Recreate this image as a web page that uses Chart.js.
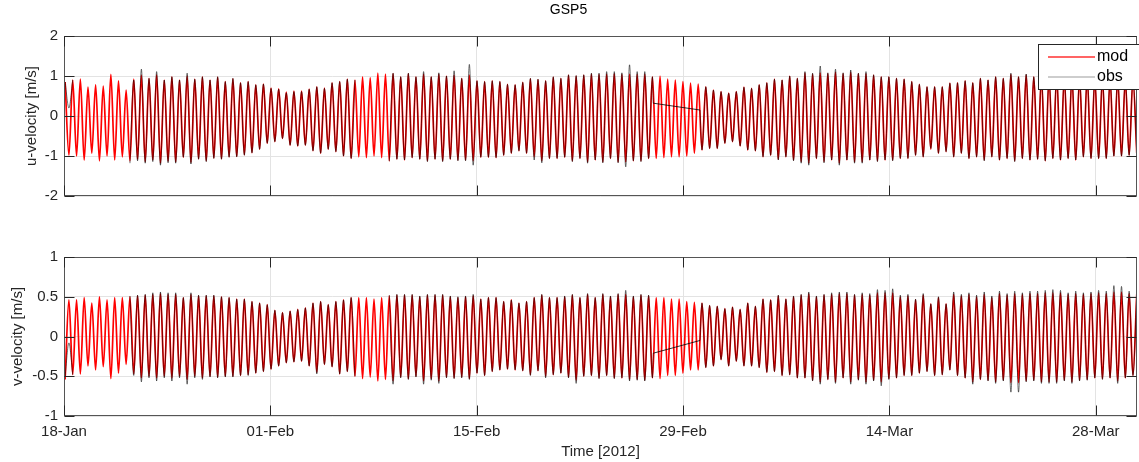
<!DOCTYPE html>
<html>
<head>
<meta charset="utf-8">
<script src="https://cdn.jsdelivr.net/npm/chart.js@4"></script>
<style>
  html, body { margin: 0; padding: 0; background: #fff; }
  #wrap { position: relative; width: 1139px; height: 462px; overflow: hidden; }
  .panel { position: absolute; left: 0; width: 1139px; }
</style>
</head>
<body>
<div id="wrap">
  <div class="panel" style="top:0;height:230px"><canvas id="uChart"></canvas></div>
  <div class="panel" style="top:230px;height:232px"><canvas id="vChart"></canvas></div>
</div>
<script>
// x axis: days after 18-Jan 2012
const tickDays = [0, 14, 28, 42, 56, 70];
const tickLabels = ['18-Jan', '01-Feb', '15-Feb', '29-Feb', '14-Mar', '28-Mar'];
const dayMax = 72.8;

// tidal extremes: first at T0, then every half cycle (M2, 12.42 h)
const T0 = 0.075;
const CYCLE = 0.5175;

// u-velocity, model: flood peaks and ebb troughs
const uModHi = [0.85, 0.90, 0.92, 0.72, 0.78, 0.75, 1.04, 0.88, 0.65,
  0.92, 1.02, 0.94, 1.03, 0.90, 0.98, 0.90, 1.00, 0.92, 0.98, 0.90, 0.97, 0.86, 0.93, 0.83, 0.86, 0.78, 0.80, 0.70, 0.68, 0.60, 0.62, 0.62, 0.67, 0.73, 0.70,
  0.83, 0.86, 0.92, 0.90, 0.98, 0.96, 1.07, 1.05, 1.06, 0.98, 1.06, 0.98, 1.05, 0.98, 1.05, 1.00, 1.02, 0.94, 1.02, 0.88, 0.86, 0.88, 0.86, 0.79, 0.78, 0.84, 0.93, 0.91, 0.88, 0.97, 0.94, 1.02, 1.00, 1.02, 1.05,
  1.04, 1.05, 1.06, 1.04, 1.05, 1.04, 1.05, 0.98, 1.00, 0.92, 0.90, 0.86, 0.82, 0.80, 0.73, 0.65, 0.61, 0.57, 0.61, 0.72, 0.69, 0.78, 0.83, 0.92, 0.90, 1.00, 0.94, 1.08, 1.05, 1.08, 1.06, 1.10, 1.06, 1.10, 1.06,
  1.06, 1.02, 0.98, 0.98, 0.94, 0.92, 0.86, 0.79, 0.73, 0.73, 0.73, 0.82, 0.83, 0.88, 0.83, 0.94, 0.90, 0.98, 0.94, 1.04, 0.98, 1.03, 0.98, 0.98, 0.95, 1.00, 0.96, 0.98, 0.95, 0.97, 0.93, 0.95, 0.92, 0.94, 0.90, 0.92];
const uModLo = [-0.98,
  -1.00, -1.10, -0.93, -1.12, -1.00, -1.10, -1.02, -1.12, -1.08, -1.14, -1.10, -1.18, -1.13, -1.15, -1.03, -1.16, -1.07, -1.12, -1.05, -1.07, -1.02, -1.01, -0.97, -0.92, -0.83, -0.68, -0.64, -0.56, -0.73, -0.75, -0.73, -0.87, -0.93,
  -0.83, -0.89, -1.00, -1.06, -1.02, -1.04, -1.00, -1.04, -1.12, -1.08, -1.10, -1.04, -1.08, -1.12, -1.08, -1.12, -1.08, -1.10, -1.10, -1.12, -1.03, -1.03, -1.04, -0.98, -0.93, -0.87, -0.93, -1.02, -1.12, -1.06, -1.06, -1.03, -1.12, -1.06, -1.15,
  -1.10, -1.15, -1.06, -1.15, -1.15, -1.12, -1.12, -1.06, -1.06, -1.04, -1.02, -1.02, -1.00, -0.93, -0.85, -0.81, -0.81, -0.68, -0.64, -0.75, -0.85, -0.87, -1.02, -0.98, -1.08, -1.02, -1.10, -1.14, -1.18, -1.06, -1.14, -1.10, -1.18, -1.10, -1.15,
  -1.15, -1.10, -1.12, -1.10, -1.10, -1.06, -1.06, -0.98, -1.02, -0.83, -0.93, -0.89, -1.02, -0.93, -1.06, -1.02, -1.10, -1.02, -1.10, -1.06, -1.12, -1.06, -1.10, -1.08, -1.12, -1.06, -1.10, -1.06, -1.10, -1.02, -1.06, -1.06, -1.06, -1.00, -1.00, -0.98, -0.93];

// u-velocity, observed (null = no data)
const uObsHi = [0.85, 0.90, null, null, null, null, null, null, null,
  0.90, 1.17, 0.94, 1.11, 0.90, 0.98, 0.90, 1.07, 0.92, 0.98, 0.90, 0.98, 0.86, 0.94, 0.83, 0.86, 0.78, 0.80, 0.69, 0.67, 0.58, 0.61, 0.61, 0.67, 0.73, 0.69,
  0.83, 0.86, 0.92, 0.90, null, null, null, null, 1.07, 0.98, 1.07, 0.98, 1.11, 0.98, 1.08, 1.00, 1.13, 0.94, 1.29, 0.88, 0.86, 0.88, 0.86, 0.79, 0.78, 0.84, 0.94, 0.92, 0.88, 0.98, 0.94, 1.03, 1.01, 1.03, 1.07,
  1.07, 1.11, 1.11, 1.08, 1.28, 1.11, 1.11, 0.98, null, null, null, null, null, null, 0.73, 0.65, 0.61, 0.57, 0.61, 0.72, 0.69, 0.78, 0.83, 0.92, 0.90, 1.00, 0.94, 1.11, 1.07, 1.25, 1.08, 1.17, 1.08, 1.15, 1.07,
  1.11, 1.03, 0.98, 0.98, 0.94, 0.92, 0.86, 0.79, 0.73, 0.73, 0.73, 0.82, 0.83, 0.88, 0.83, 0.94, 0.90, 0.98, 0.94, 1.07, 0.98, 1.05, 0.98, 1.00, 0.96, 1.02, 0.97, 0.99, 0.96, 0.98, 0.94, 0.97, 0.93, 0.96, 0.92, 0.93];
const uObsLo = [0.20, null, null, null, null, null, null, null,
  -1.18, -1.12, -1.18, -1.14, -1.23, -1.17, -1.18, -1.03, -1.20, -1.08, -1.14, -1.06, -1.08, -1.03, -1.02, -0.98, -0.92, -0.83, -0.68, -0.64, -0.56, -0.73, -0.75, -0.73, -0.87, -0.93,
  -0.83, -0.89, -1.00, -1.06, null, null, null, null, -1.13, -1.08, -1.10, -1.04, -1.08, -1.14, -1.08, -1.14, -1.08, -1.12, -1.12, -1.23, -1.03, -1.03, -1.04, -0.98, -0.93, -0.87, -0.93, -1.10, -1.17, -1.06, -1.06, -1.03, -1.14, -1.06, -1.18,
  -1.10, -1.17, -1.06, -1.17, -1.27, -1.12, -1.14, -1.06, null, null, null, null, null, null, -0.85, -0.81, -0.81, -0.68, -0.64, -0.75, -0.85, -0.87, -1.02, -0.98, -1.10, -1.02, -1.12, -1.18, -1.23, -1.06, -1.17, -1.10, -1.23, -1.10, -1.18,
  -1.18, -1.10, -1.14, -1.10, -1.12, -1.06, -1.06, -0.98, -1.02, -0.81, -0.93, -0.89, -1.02, -0.93, -1.06, -1.02, -1.12, -1.02, -1.10, -1.06, -1.14, -1.06, -1.10, -1.08, -1.12, -1.06, -1.10, -1.06, -1.10, -1.02, -1.06, -1.06, -1.06, -1.00, -1.00, -0.98, -0.93];
// straight segment across the obs gap [day, value]
const uObsGap = [[39.98, 0.32], [43.15, 0.15]];

// v-velocity, model: troughs come first, peaks half a cycle later
const vModLo = [-0.54, -0.48, -0.47, -0.37, -0.42, -0.38, -0.53, -0.46, -0.35, -0.47, -0.52, -0.50, -0.52, -0.50, -0.52, -0.50, -0.54, -0.50, -0.52, -0.50, -0.51, -0.50, -0.50, -0.49, -0.48, -0.46, -0.44, -0.41, -0.37, -0.33, -0.32, -0.31, -0.37, -0.45, -0.35,
  -0.38, -0.47, -0.44, -0.50, -0.53, -0.51, -0.56, -0.54, -0.56, -0.51, -0.53, -0.50, -0.56, -0.53, -0.56, -0.51, -0.52, -0.51, -0.53, -0.46, -0.49, -0.44, -0.42, -0.41, -0.42, -0.43, -0.48, -0.43, -0.50, -0.48, -0.46, -0.51, -0.55, -0.50,
  -0.49, -0.52, -0.49, -0.52, -0.52, -0.54, -0.54, -0.55, -0.52, -0.53, -0.49, -0.49, -0.46, -0.42, -0.42, -0.39, -0.37, -0.29, -0.37, -0.31, -0.37, -0.37, -0.39, -0.45, -0.44, -0.49, -0.48, -0.52, -0.52, -0.55, -0.57, -0.54, -0.57, -0.52, -0.57,
  -0.54, -0.57, -0.55, -0.57, -0.53, -0.52, -0.49, -0.49, -0.46, -0.44, -0.49, -0.48, -0.42, -0.49, -0.52, -0.57, -0.54, -0.55, -0.57, -0.55, -0.58, -0.58, -0.56, -0.55, -0.57, -0.57, -0.57, -0.55, -0.57, -0.55, -0.54, -0.52, -0.53, -0.52, -0.56, -0.52, -0.49];
const vModHi = [0.46, 0.46, 0.49, 0.42, 0.50, 0.46, 0.49, 0.49, 0.50, 0.51, 0.52, 0.53, 0.54, 0.53, 0.53, 0.49, 0.53, 0.51, 0.51, 0.51, 0.50, 0.49, 0.47, 0.47, 0.44, 0.42, 0.40, 0.33, 0.30, 0.32, 0.34, 0.36, 0.42, 0.44, 0.40,
  0.44, 0.46, 0.49, 0.49, 0.49, 0.47, 0.49, 0.51, 0.52, 0.52, 0.52, 0.50, 0.52, 0.52, 0.52, 0.50, 0.49, 0.50, 0.51, 0.47, 0.49, 0.49, 0.44, 0.46, 0.42, 0.44, 0.49, 0.52, 0.49, 0.49, 0.50, 0.52, 0.49, 0.53,
  0.49, 0.53, 0.50, 0.53, 0.53, 0.50, 0.52, 0.51, 0.49, 0.49, 0.47, 0.47, 0.44, 0.43, 0.42, 0.39, 0.38, 0.35, 0.37, 0.34, 0.42, 0.38, 0.47, 0.46, 0.51, 0.47, 0.50, 0.52, 0.54, 0.50, 0.52, 0.53, 0.54, 0.54, 0.52,
  0.53, 0.52, 0.55, 0.55, 0.55, 0.50, 0.51, 0.46, 0.52, 0.41, 0.49, 0.41, 0.53, 0.51, 0.53, 0.50, 0.53, 0.49, 0.54, 0.52, 0.54, 0.53, 0.54, 0.54, 0.55, 0.55, 0.55, 0.53, 0.54, 0.53, 0.54, 0.55, 0.54, 0.56, 0.56, 0.54, 0.53];

// v-velocity, observed
const vObsLo = [-0.50, -0.48, null, null, null, null, null, null, null,
  -0.49, -0.57, -0.52, -0.56, -0.52, -0.56, -0.52, -0.60, -0.52, -0.54, -0.51, -0.52, -0.51, -0.51, -0.49, -0.49, -0.46, -0.44, -0.41, -0.37, -0.33, -0.32, -0.31, -0.37, -0.47, -0.35,
  -0.38, -0.47, -0.44, -0.50, null, null, null, null, -0.60, -0.52, -0.54, -0.51, -0.60, -0.55, -0.59, -0.52, -0.53, -0.52, -0.54, -0.46, -0.49, -0.44, -0.42, -0.41, -0.42, -0.43, -0.49, -0.43, -0.52, -0.48, -0.46, -0.52, -0.59, -0.50,
  -0.49, -0.53, -0.49, -0.53, -0.52, -0.56, -0.55, -0.56, -0.52, null, null, null, null, null, null, -0.39, -0.37, -0.29, -0.37, -0.31, -0.37, -0.37, -0.39, -0.45, -0.44, -0.49, -0.48, -0.52, -0.52, -0.56, -0.60, -0.54, -0.59, -0.52, -0.60,
  -0.55, -0.60, -0.56, -0.62, -0.54, -0.52, -0.49, -0.49, -0.46, -0.44, -0.49, -0.48, -0.42, -0.49, -0.52, -0.60, -0.54, -0.56, -0.59, -0.56, -0.70, -0.70, -0.57, -0.56, -0.59, -0.59, -0.59, -0.56, -0.59, -0.56, -0.55, -0.52, -0.54, -0.52, -0.59, -0.52, -0.49];
const vObsHi = [-0.08, null, null, null, null, null, null, null,
  0.51, 0.52, 0.53, 0.55, 0.56, 0.55, 0.55, 0.49, 0.55, 0.52, 0.52, 0.52, 0.50, 0.49, 0.47, 0.47, 0.44, 0.42, 0.40, 0.33, 0.30, 0.32, 0.34, 0.36, 0.42, 0.44, 0.40,
  0.44, 0.46, 0.49, null, null, null, null, 0.52, 0.53, 0.53, 0.53, 0.51, 0.53, 0.53, 0.53, 0.51, 0.50, 0.51, 0.53, 0.47, 0.49, 0.49, 0.44, 0.46, 0.42, 0.44, 0.49, 0.53, 0.49, 0.49, 0.51, 0.53, 0.49, 0.54,
  0.49, 0.54, 0.51, 0.54, 0.58, 0.51, 0.53, 0.52, null, null, null, null, null, null, 0.42, 0.39, 0.38, 0.35, 0.37, 0.34, 0.42, 0.38, 0.47, 0.46, 0.52, 0.47, 0.51, 0.53, 0.56, 0.51, 0.53, 0.55, 0.56, 0.56, 0.53,
  0.55, 0.54, 0.59, 0.58, 0.60, 0.52, 0.53, 0.47, 0.54, 0.41, 0.50, 0.41, 0.56, 0.53, 0.55, 0.52, 0.56, 0.51, 0.57, 0.54, 0.57, 0.55, 0.57, 0.57, 0.58, 0.59, 0.58, 0.55, 0.57, 0.55, 0.56, 0.58, 0.57, 0.64, 0.63, 0.57, 0.55];
const vObsGap = [[39.98, -0.21], [43.15, -0.05]];

// interleave extremes into {x,y}; the obs gap ends get their own points and a break
function build(first, second, gap) {
  let pts = [];
  for (let k = 0; k < first.length; k++) {
    pts.push({ x: T0 + k * CYCLE, y: first[k] });
    pts.push({ x: T0 + CYCLE / 2 + k * CYCLE, y: second[k] });
  }
  if (gap) {
    pts = pts.filter(p => p.x < gap[0][0] || p.x > gap[1][0]);
    const i = pts.findIndex(p => p.x > gap[1][0]);
    pts.splice(i, 0, { x: gap[0][0], y: gap[0][1] }, { x: (gap[0][0] + gap[1][0]) / 2, y: null }, { x: gap[1][0], y: gap[1][1] });
  }
  return pts;
}
const gapLine = gap => gap.map(([x, y]) => ({ x, y }));

Chart.defaults.font.family = '"Liberation Sans", Arial, sans-serif';
Chart.defaults.font.size = 15;
Chart.defaults.color = '#262626';

const INK = '#262626';
const GRID = '#e3e3e3';
const OBS = 'rgba(0,0,0,0.8)';
const MOD = '#ff0000';

// box + inward tick marks like the original axes
const frame = {
  id: 'frame',
  afterDraw(chart) {
    const { ctx, chartArea: a, scales: { x, y } } = chart;
    const L = Math.round(a.left) + 0.5, R = Math.round(a.right) - 0.5;
    const T = Math.round(a.top) + 0.5, B = Math.round(a.bottom) - 0.5;
    ctx.save();
    ctx.strokeStyle = '#555';
    ctx.lineWidth = 1;
    ctx.strokeRect(L, T, R - L, B - T);
    ctx.strokeStyle = INK;
    ctx.beginPath();
    x.ticks.forEach(t => {
      const px = Math.round(x.getPixelForValue(t.value)) + 0.5;
      ctx.moveTo(px, T); ctx.lineTo(px, T + 10);
      ctx.moveTo(px, B); ctx.lineTo(px, B - 10);
    });
    y.ticks.forEach(t => {
      const py = Math.round(y.getPixelForValue(t.value)) + 0.5;
      ctx.moveTo(L, py); ctx.lineTo(L + 10, py);
      ctx.moveTo(R, py); ctx.lineTo(R - 10, py);
    });
    ctx.stroke();
    ctx.restore();
  }
};

// legend box in the upper right corner of the top panel
const legendBox = {
  id: 'legendBox',
  afterDraw(chart) {
    const ctx = chart.ctx;
    const items = [['mod', '#ff3030'], ['obs', '#bdbdbd']];
    ctx.save();
    ctx.fillStyle = '#fff';
    ctx.fillRect(1038.5, 44.5, 110, 45);
    ctx.strokeStyle = INK;
    ctx.lineWidth = 1;
    ctx.strokeRect(1038.5, 44.5, 110, 45);
    ctx.font = '16px "Liberation Sans", Arial, sans-serif';
    ctx.textBaseline = 'middle';
    items.forEach(([name, col], i) => {
      const yy = 57 + i * 20;
      ctx.strokeStyle = col;
      ctx.lineWidth = 1.5;
      ctx.beginPath(); ctx.moveTo(1048, yy); ctx.lineTo(1095, yy); ctx.stroke();
      ctx.fillStyle = '#000';
      ctx.fillText(name, 1097, yy);
    });
    ctx.restore();
  }
};

function xScale(showLabels, height) {
  return {
    type: 'linear', min: 0, max: dayMax,
    afterBuildTicks: s => { s.ticks = tickDays.map(v => ({ value: v })); },
    afterFit: s => { s.height = height; },
    grid: { color: GRID, drawTicks: false },
    border: { display: false },
    ticks: { display: showLabels, padding: 7, maxRotation: 0, color: INK,
      callback: v => tickLabels[tickDays.indexOf(v)] },
    title: { display: showLabels, text: 'Time [2012]', color: INK, padding: { top: 0, bottom: 1 } }
  };
}

function yScale(min, max, step, label, titlePad) {
  return {
    min: min, max: max,
    afterFit: s => { s.width = 64; },
    grid: { color: GRID, drawTicks: false },
    border: { display: false },
    ticks: { stepSize: step, padding: 6, color: INK, callback: v => String(v) },
    title: { display: true, text: label, color: INK, padding: { top: titlePad, bottom: 0 } }
  };
}

function lineSet(label, data, color, width) {
  return { label: label, data: data, borderColor: color, borderWidth: width, pointRadius: 0,
    cubicInterpolationMode: 'monotone', spanGaps: false, fill: false };
}

new Chart(document.getElementById('uChart'), {
  type: 'line',
  data: { datasets: [
    lineSet('obs', build(uObsHi, uObsLo, uObsGap), OBS, 0.7),
    lineSet('obs gap', gapLine(uObsGap), OBS, 1),
    lineSet('mod', build(uModHi, uModLo), MOD, 1.7)
  ] },
  options: {
    responsive: true, maintainAspectRatio: false, animation: false,
    layout: { padding: { top: 0, right: 2, left: 0, bottom: 0 } },
    plugins: {
      legend: { display: false }, tooltip: { enabled: false },
      title: { display: true, text: 'GSP5', color: '#000', font: { size: 14, weight: 'normal' }, padding: { top: 2, bottom: 17.2 } }
    },
    scales: { x: xScale(false, 34), y: yScale(-2, 2, 1, 'u-velocity [m/s]', 23) }
  },
  plugins: [frame, legendBox]
});

new Chart(document.getElementById('vChart'), {
  type: 'line',
  data: { datasets: [
    lineSet('obs', build(vObsLo, vObsHi, vObsGap), OBS, 0.7),
    lineSet('obs gap', gapLine(vObsGap), OBS, 1),
    lineSet('mod', build(vModLo, vModHi), MOD, 1.7)
  ] },
  options: {
    responsive: true, maintainAspectRatio: false, animation: false,
    layout: { padding: { top: 27, right: 2, left: 0, bottom: 0 } },
    plugins: { legend: { display: false }, tooltip: { enabled: false } },
    scales: { x: xScale(true, 46), y: yScale(-1, 1, 0.5, 'v-velocity [m/s]', 9) }
  },
  plugins: [frame]
});
</script>
</body>
</html>
